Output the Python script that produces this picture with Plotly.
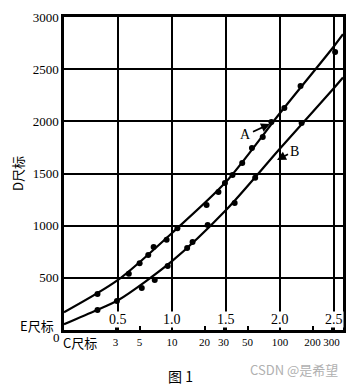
import numpy as np
import plotly.graph_objects as go

# ---- data (E scale on x, D scale on y) ----
a_dots_E = [0.31, 0.60, 0.70, 0.78, 0.83, 0.95, 1.05, 1.32, 1.43, 1.49, 1.56, 1.65, 1.74, 1.84, 1.92, 2.04, 2.19, 2.51]
a_dots_D = [345, 540, 640, 720, 795, 865, 975, 1198, 1323, 1409, 1486, 1600, 1745, 1850, 1994, 2128, 2339, 2665]
b_dots_E = [0.31, 0.49, 0.72, 0.84, 0.96, 1.14, 1.19, 1.33, 1.58, 1.77, 2.20]
b_dots_D = [192, 278, 403, 480, 613, 786, 843, 1006, 1217, 1460, 1984]

a_line_E = [0.0, 0.5, 1.0, 1.5, 2.0, 2.5, 2.583]
a_line_D = [170, 480, 930, 1420, 2080, 2720, 2835]
b_line_E = [0.0, 0.3, 0.5, 1.0, 1.5, 2.0, 2.5, 2.583]
b_line_D = [55, 190, 285, 660, 1150, 1740, 2320, 2420]

e_ticks = [0.5, 1.0, 1.5, 2.0, 2.5]
e_labels = ["0.5", "1.0", "1.5", "2.0", "2.5"]
c_values = [3, 5, 10, 20, 30, 50, 100, 200, 300]
c_labels = ["3", "5", "10", "20", "30", "50", "100", "200", "300"]
d_ticks = [500, 1000, 1500, 2000, 2500, 3000]
d_labels = ["500", "1000", "1500", "2000", "2500", "3000"]

SERIF = "Liberation Serif, Times New Roman, serif"
CJK = "Noto Sans CJK SC"

fig = go.Figure()
fig.add_trace(go.Scatter(x=a_line_E, y=a_line_D, mode="lines",
                         line=dict(color="black", width=2.2, shape="spline", smoothing=0.8),
                         showlegend=False, hoverinfo="skip"))
fig.add_trace(go.Scatter(x=b_line_E, y=b_line_D, mode="lines",
                         line=dict(color="black", width=2.2, shape="spline", smoothing=0.8),
                         showlegend=False, hoverinfo="skip"))
fig.add_trace(go.Scatter(x=a_dots_E, y=a_dots_D, mode="markers",
                         marker=dict(color="black", size=6), showlegend=False))
fig.add_trace(go.Scatter(x=b_dots_E, y=b_dots_D, mode="markers",
                         marker=dict(color="black", size=6), showlegend=False))

fig.update_xaxes(
    range=[0, 2.583], showgrid=False, zeroline=False, automargin=False,
    tickvals=[float(np.log10(c)) for c in c_values], ticktext=c_labels, tickangle=0,
    ticks="inside", ticklen=4, tickwidth=2, tickcolor="black",
    tickfont=dict(family=SERIF, size=11, color="black"),
    showline=True, linecolor="black", linewidth=2.5, mirror=True,
    minor=dict(tickvals=e_ticks, showgrid=True, gridcolor="black", gridwidth=2, ticks=""),
)
fig.update_yaxes(
    range=[0, 3000], tickvals=d_ticks, ticktext=d_labels, automargin=False,
    showgrid=True, gridcolor="black", gridwidth=2, zeroline=False,
    ticks="", ticklen=0,
    tickfont=dict(family=SERIF, size=13, color="black"),
    showline=True, linecolor="black", linewidth=2.5, mirror=True,
    title=dict(text="D尺标", font=dict(family=CJK, size=13, color="black"), standoff=14),
)

ann = []
for v, t in zip(e_ticks, e_labels):
    ann.append(dict(x=v, y=15, xref="x", yref="y", text=t, showarrow=False,
                    xanchor="center", yanchor="bottom",
                    font=dict(family=SERIF, size=14, color="black"),
                    bgcolor="white", borderpad=0))
ann += [
    dict(x=1.907, y=1975, xref="x", yref="y", text="A", showarrow=True,
         ax=-24, ay=11, arrowhead=2, arrowsize=1, arrowwidth=1.8, arrowcolor="black",
         font=dict(family=SERIF, size=14, color="black")),
    dict(x=1.972, y=1629, xref="x", yref="y", text="B", showarrow=True,
         ax=17, ay=-9, arrowhead=2, arrowsize=1, arrowwidth=1.8, arrowcolor="black",
         font=dict(family=SERIF, size=14, color="black")),
    dict(text="E尺标", x=37, y=325, showarrow=False, font=dict(family=CJK, size=13, color="black")),
    dict(text="0", x=56, y=338, showarrow=False, font=dict(family=SERIF, size=13, color="black")),
    dict(text="C尺标", x=80, y=342, showarrow=False, font=dict(family=CJK, size=13, color="black")),
    dict(text="图 1", x=180, y=376, showarrow=False, font=dict(family=CJK, size=14, color="black")),
    dict(text="CSDN @是希望", x=294, y=369, showarrow=False,
         font=dict(family="Noto Sans CJK SC", size=13, color="#b0b0b0")),
]
# page is rendered with an 8px body margin: work in page pixels, shift by 8
OFF = 8
W, H = 359 - OFF, 387 - OFF
L, T = 64 - OFF, 17 - OFF
R = W - (343 - OFF)
B = H - (330 - OFF)
pw, ph = W - L - R, H - T - B
fixed = []
for a in ann:
    if "xref" not in a:
        px, py = a["x"] - OFF, a["y"] - OFF
        a.update(xref="paper", yref="paper", x=(px - L) / pw, y=(H - B - py) / ph,
                 xanchor="center", yanchor="middle")
    fixed.append(a)

fig.update_layout(
    width=W, height=H, margin=dict(l=L, r=R, t=T, b=B),
    paper_bgcolor="white", plot_bgcolor="white",
    annotations=fixed, showlegend=False,
)
fig.write_html("out.html")
